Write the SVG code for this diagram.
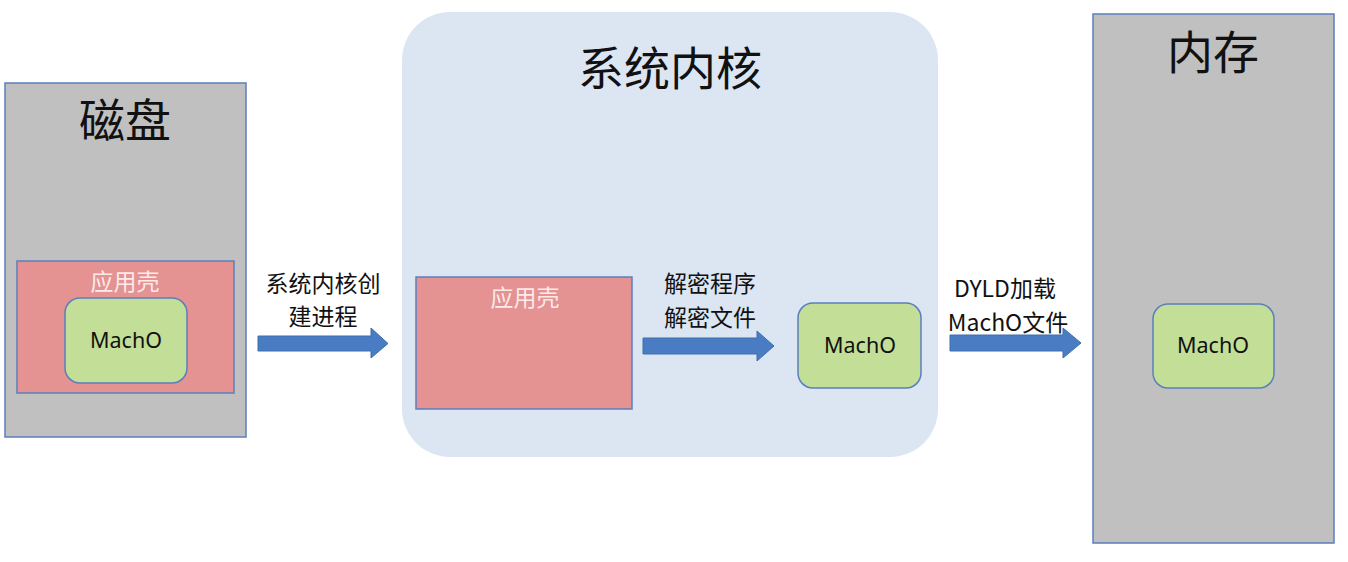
<svg xmlns="http://www.w3.org/2000/svg" width="1348" height="562" viewBox="0 0 1348 562">
<style>
.gray{fill:#c0c0c0;stroke:#5b7fbd;stroke-width:1.5}
.red{fill:#e59292;stroke:#5b7fbd;stroke-width:1.5}
.green{fill:#c3de96;stroke:#5b7fbd;stroke-width:1.5}
.kernel{fill:#dce6f3}
.title{font-family:"Noto Sans CJK SC","Noto Sans",sans-serif;font-size:46px;fill:#111;text-anchor:middle}
.lbl{font-family:"Noto Sans CJK SC","Noto Sans",sans-serif;font-size:23px;fill:#111;text-anchor:middle}
.shell{font-family:"Noto Sans CJK SC","Noto Sans",sans-serif;font-size:23px;fill:#fbeaea;text-anchor:middle}
.mach{font-family:"Noto Sans","Noto Sans CJK SC",sans-serif;font-size:21.5px;fill:#111;text-anchor:middle}
.arrow{fill:#4a7cc3;stroke:#3f6eaf;stroke-width:1}
</style>
<rect width="1348" height="562" fill="#ffffff"/>
<g id="disk">
<rect class="gray" x="5" y="83" width="241" height="354"/>
<text class="title" x="125" y="137">磁盘</text>
</g>
<g id="disk-shell">
<rect class="red" x="17" y="261" width="217" height="132"/>
<text class="shell" x="125" y="290">应用壳</text>
</g>
<g id="disk-macho">
<rect class="green" x="65" y="298" width="122" height="85" rx="15"/>
<text class="mach" x="126" y="348">MachO</text>
</g>
<g id="kernel">
<rect class="kernel" x="402" y="12" width="536" height="445" rx="48"/>
<text class="title" x="670" y="85">系统内核</text>
</g>
<g id="kernel-shell">
<rect class="red" x="416" y="277" width="216" height="132"/>
<text class="shell" x="525" y="306">应用壳</text>
</g>
<g id="kernel-macho">
<rect class="green" x="798" y="303" width="123" height="85" rx="15"/>
<text class="mach" x="860" y="353">MachO</text>
</g>
<g id="memory">
<rect class="gray" x="1093" y="14" width="241" height="529"/>
<text class="title" x="1213" y="69">内存</text>
</g>
<g id="memory-macho">
<rect class="green" x="1153" y="304" width="121" height="84" rx="15"/>
<text class="mach" x="1213" y="353">MachO</text>
</g>
<g id="connectors">
<polygon class="arrow" points="258,336 371,336 371,328 388,343.5 371,358 371,351 258,351"/>
<text class="lbl" x="323" y="292">系统内核创</text>
<text class="lbl" x="323" y="325">建进程</text>
<polygon class="arrow" points="643,338 757,338 757,331 774,346 757,361 757,354 643,354"/>
<text class="lbl" x="710" y="292">解密程序</text>
<text class="lbl" x="710" y="326">解密文件</text>
<polygon class="arrow" points="950,335 1063,335 1063,328 1081,343 1063,358 1063,351 950,351"/>
<text class="lbl" x="1005" y="297">DYLD加载</text>
<text class="lbl" x="1008" y="331">MachO文件</text>
</g>
</svg>
